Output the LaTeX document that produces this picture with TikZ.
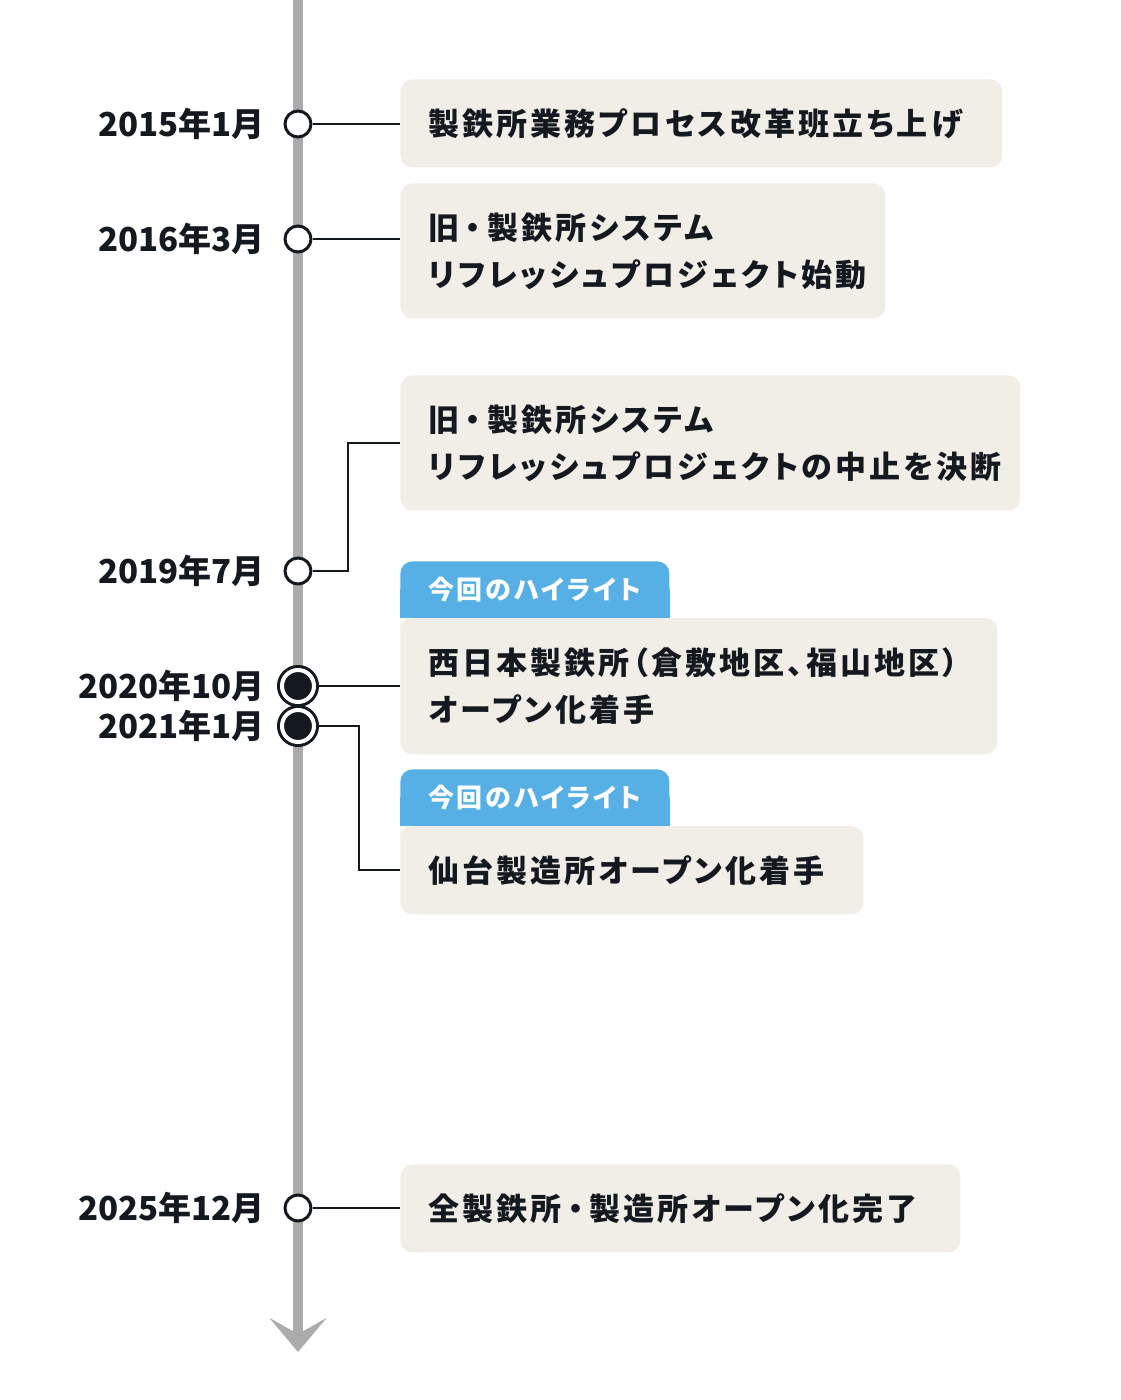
\documentclass[tikz,border=0pt]{standalone}
\usepackage{fontspec}
\usetikzlibrary{arrows.meta,backgrounds}
\newfontfamily\jpfont{Noto Sans CJK JP}[RawFeature=+palt, LetterSpace=10]
\newfontfamily\datefont{Noto Sans CJK JP}
\newcommand{\nakaguro}{\hspace{0.2em}・\hspace{0.2em}}
\definecolor{ink}{HTML}{14181F}
\definecolor{rail}{HTML}{ABABAB}
\definecolor{card}{HTML}{F1EDE7}
\definecolor{hilite}{HTML}{56B0E6}

\begin{document}
\begin{tikzpicture}[
    x=0.5pt, y=-0.5pt,
    datelbl/.style={anchor=east, inner sep=0pt, text=ink,
        font=\datefont\bfseries\fontsize{16.5}{20}\selectfont},
    card/.style={
        fill=card,
        rounded corners=6pt,
        anchor=north west,
        align=left,
        inner xsep=14pt,
        inner ysep=0pt,
        text=ink,
        font=\jpfont\bfseries\fontsize{15.5}{23.5}\selectfont
    },
    tab/.style={
        fill=hilite,
        rounded corners=6pt,
        anchor=north west,
        align=left,
        inner xsep=14pt,
        inner ysep=0pt,
        text width=106.5pt,
        minimum height=28pt,
        text=white,
        font=\jpfont\bfseries\fontsize{13}{16}\selectfont
    },
    milestone/.style={circle, draw=ink, line width=1.5pt, fill=white,
        minimum size=13pt, inner sep=0pt},
    current/.style={circle, fill=ink, draw=white, line width=2pt,
        minimum size=16pt, inner sep=0pt, preaction={draw=ink, line width=5pt}},
    link/.style={draw=ink, line width=1pt}
]
\useasboundingbox (0,0) rectangle (1120,1400);

% time axis
\draw[rail, line width=5pt, -{Stealth[length=17pt, width=28.5pt, inset=8pt]}]
    (298,0) -- (298,1352);

% events
\node[card, text width=273pt, minimum height=44pt] (b15) at (400,79)
{製鉄所業務プロセス改革班立ち上げ};
\node[card, text width=214.5pt, minimum height=67.5pt] (b16) at (400,183)
{旧\nakaguro 製鉄所システム\\
リフレッシュプロジェクト始動};
\node[card, text width=282pt, minimum height=67.5pt] (b19) at (400,375)
{旧\nakaguro 製鉄所システム\\
リフレッシュプロジェクトの中止を決断};

\node[tab] (h20) at (400,561) {今回のハイライト};
\node[card, text width=270.5pt, minimum height=68pt] (b20) at (h20.south west)
{西日本製鉄所（倉敷地区、福山地区）\\
オープン化着手};
\fill[card] (b20.north west) rectangle ++(12,12);

\node[tab] (h21) at (400,769) {今回のハイライト};
\node[card, text width=203.5pt, minimum height=44pt] (b21) at (h21.south west)
{仙台製造所オープン化着手};
\fill[card] (b21.north west) rectangle ++(12,12);

\begin{scope}[on background layer]
\fill[hilite] (h20.west) rectangle (h20.south east);
\fill[hilite] (h21.west) rectangle (h21.south east);
\end{scope}

\node[card, text width=252pt, minimum height=44pt] (b25) at (400,1164)
{全製鉄所\nakaguro 製造所オープン化完了};

% markers
\node[milestone] (d15) at (298,124) {};
\node[milestone] (d16) at (298,239) {};
\node[milestone] (d19) at (298,571) {};
\node[current] (d20) at (298,686) {};
\node[current] (d21) at (298,726) {};
\node[milestone] (d25) at (298,1208) {};

\node[datelbl] (t15) at (265,124) {2015年1月};
\node[datelbl] (t16) at (265,239) {2016年3月};
\node[datelbl] (t19) at (265,571) {2019年7月};
\node[datelbl] (t20) at (265,686) {2020年10月};
\node[datelbl] (t21) at (265,726) {2021年1月};
\node[datelbl] (t25) at (265,1208) {2025年12月};

\draw[link] (d15) -- (d15 -| b15.west);
\draw[link] (d16) -- (d16 -| b16.west);
\draw[link] (d19.east) -- ++(35,0) |- (b19.west);
\draw[link] (d20) -- (d20 -| b20.west);
\draw[link] (d21.east) -- ++(43,0) |- (b21.west);
\draw[link] (d25) -- (d25 -| b25.west);
\end{tikzpicture}
\end{document}
